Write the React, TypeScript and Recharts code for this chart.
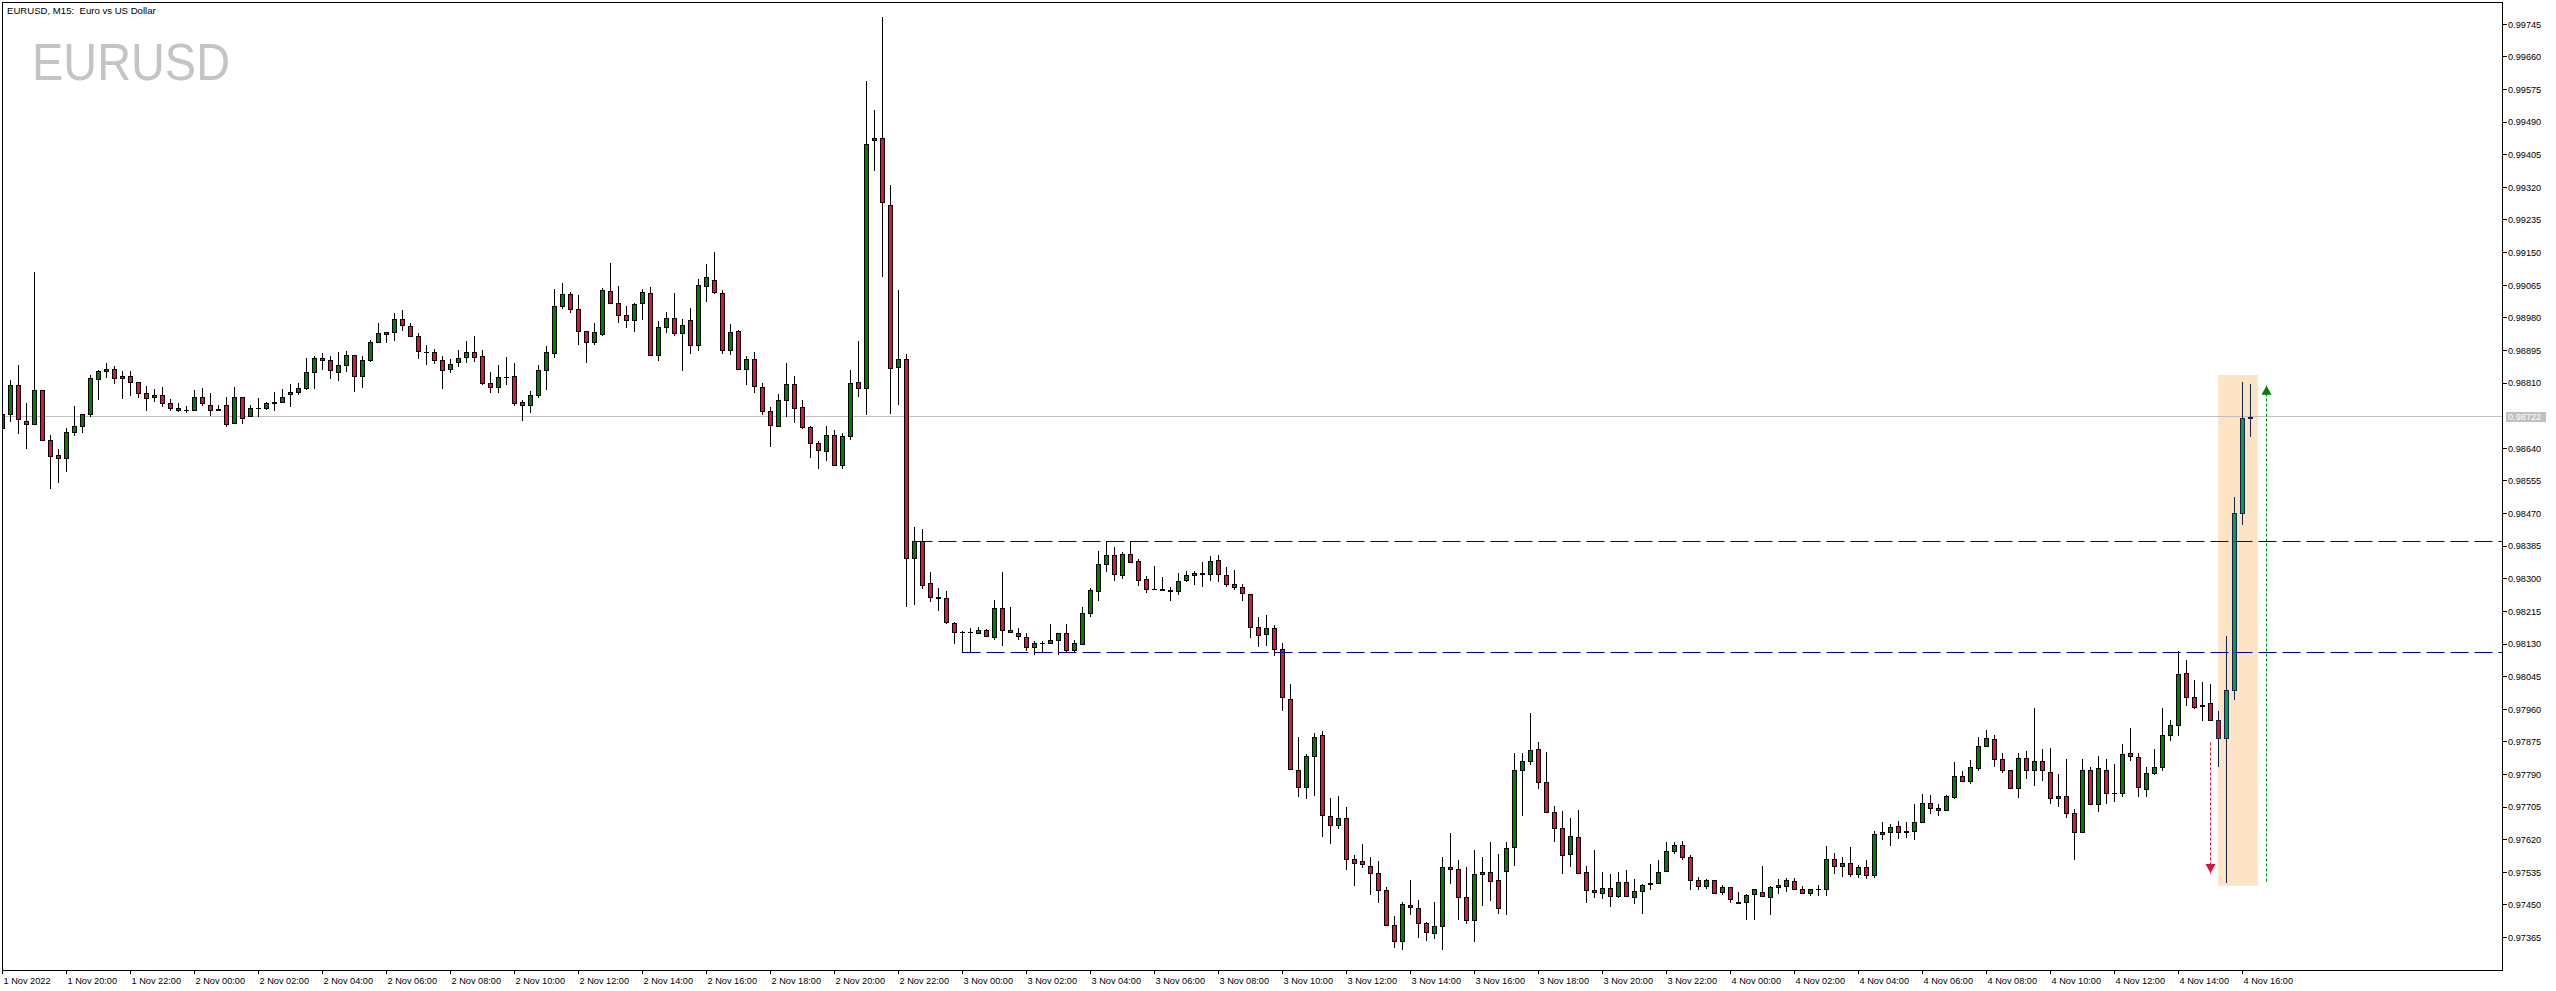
import {
  ComposedChart,
  Bar,
  XAxis,
  YAxis,
  ReferenceLine,
  ReferenceArea,
  ReferenceDot,
} from "recharts";

const FONT = "'Liberation Sans', Arial, sans-serif";

// EURUSD M15, one entry per candle, starting 1 Nov 2022 18:00
const opens = [
  0.98692, 0.98729, 0.98804, 0.98710, 0.98703, 0.98791, 0.98661, 0.98622, 0.98614, 0.98682,
  0.98697, 0.98729, 0.98820, 0.98841, 0.98846, 0.98822, 0.98828, 0.98812, 0.98783, 0.98773,
  0.98778, 0.98757, 0.98744, 0.98740, 0.98739, 0.98775, 0.98752, 0.98742, 0.98752, 0.98705,
  0.98773, 0.98723, 0.98744, 0.98744, 0.98757, 0.98762, 0.98781, 0.98786, 0.98796, 0.98838,
  0.98875, 0.98869, 0.98840, 0.98856, 0.98882, 0.98828, 0.98869, 0.98916, 0.98939, 0.98942,
  0.98976, 0.98958, 0.98934, 0.98892, 0.98890, 0.98869, 0.98846, 0.98864, 0.98877, 0.98890,
  0.98880, 0.98809, 0.98799, 0.98827, 0.98828, 0.98760, 0.98752, 0.98778, 0.98843, 0.98888,
  0.99010, 0.99041, 0.99002, 0.98945, 0.98916, 0.98939, 0.99049, 0.99020, 0.98987, 0.98974,
  0.99018, 0.99044, 0.98882, 0.98955, 0.98979, 0.98941, 0.98974, 0.98908, 0.99062, 0.99078,
  0.99044, 0.98895, 0.98945, 0.98846, 0.98872, 0.98799, 0.98736, 0.98697, 0.98765, 0.98807,
  0.98747, 0.98695, 0.98653, 0.98632, 0.98676, 0.98596, 0.98671, 0.98812, 0.98797, 0.99443,
  0.99449, 0.99275, 0.98851, 0.98874, 0.98355, 0.98398, 0.98288, 0.98252, 0.98249, 0.98185,
  0.98162, 0.98161, 0.98159, 0.98166, 0.98147, 0.98223, 0.98166, 0.98158, 0.98147, 0.98121,
  0.98132, 0.98132, 0.98140, 0.98158, 0.98114, 0.98129, 0.98210, 0.98267, 0.98338, 0.98361,
  0.98309, 0.98364, 0.98346, 0.98299, 0.98273, 0.98273, 0.98270, 0.98267, 0.98296, 0.98309,
  0.98313, 0.98312, 0.98348, 0.98309, 0.98286, 0.98278, 0.98260, 0.98174, 0.98155, 0.98171,
  0.98116, 0.97988, 0.97803, 0.97757, 0.97837, 0.97892, 0.97681, 0.97658, 0.97676, 0.97569,
  0.97564, 0.97551, 0.97532, 0.97488, 0.97397, 0.97355, 0.97449, 0.97441, 0.97402, 0.97376,
  0.97394, 0.97548, 0.97543, 0.97470, 0.97410, 0.97530, 0.97535, 0.97514, 0.97538, 0.97600,
  0.97803, 0.97824, 0.97856, 0.97770, 0.97691, 0.97650, 0.97582, 0.97627, 0.97535, 0.97488,
  0.97480, 0.97493, 0.97473, 0.97509, 0.97470, 0.97486, 0.97505, 0.97506, 0.97538, 0.97590,
  0.97605, 0.97574, 0.97514, 0.97499, 0.97514, 0.97483, 0.97496, 0.97459, 0.97457, 0.97478,
  0.97483, 0.97470, 0.97496, 0.97499, 0.97512, 0.97491, 0.97480, 0.97491, 0.97491, 0.97569,
  0.97551, 0.97559, 0.97530, 0.97550, 0.97528, 0.97634, 0.97639, 0.97655, 0.97641, 0.97642,
  0.97665, 0.97715, 0.97702, 0.97697, 0.97731, 0.97785, 0.97772, 0.97806, 0.97863, 0.97882,
  0.97830, 0.97801, 0.97754, 0.97832, 0.97801, 0.97824, 0.97796, 0.97728, 0.97733, 0.97689,
  0.97639, 0.97803, 0.97712, 0.97803, 0.97743, 0.97741, 0.97845, 0.97836, 0.97753, 0.97793,
  0.97809, 0.97892, 0.97918, 0.98054, 0.97993, 0.97970, 0.97976, 0.97932, 0.97884, 0.98010,
  0.98471, 0.98720,
];

const highs = [
  0.98729, 0.98818, 0.98857, 0.98757, 0.99100, 0.98791, 0.98675, 0.98638, 0.98692, 0.98750,
  0.98729, 0.98831, 0.98844, 0.98862, 0.98855, 0.98842, 0.98842, 0.98812, 0.98802, 0.98794,
  0.98799, 0.98769, 0.98757, 0.98749, 0.98792, 0.98796, 0.98783, 0.98752, 0.98775, 0.98799,
  0.98775, 0.98752, 0.98770, 0.98762, 0.98786, 0.98794, 0.98807, 0.98811, 0.98875, 0.98881,
  0.98888, 0.98881, 0.98891, 0.98894, 0.98882, 0.98880, 0.98921, 0.98967, 0.98944, 0.98993,
  0.99000, 0.98967, 0.98940, 0.98908, 0.98899, 0.98881, 0.98873, 0.98895, 0.98920, 0.98933,
  0.98895, 0.98839, 0.98857, 0.98878, 0.98862, 0.98765, 0.98789, 0.98857, 0.98907, 0.99055,
  0.99071, 0.99047, 0.99039, 0.98947, 0.98967, 0.99057, 0.99123, 0.99062, 0.99010, 0.99018,
  0.99054, 0.99060, 0.98971, 0.98994, 0.99044, 0.98976, 0.99005, 0.99080, 0.99120, 0.99152,
  0.99052, 0.98963, 0.98948, 0.98880, 0.98890, 0.98809, 0.98747, 0.98781, 0.98862, 0.98828,
  0.98765, 0.98697, 0.98658, 0.98697, 0.98687, 0.98679, 0.98843, 0.98920, 0.99598, 0.99522,
  0.99764, 0.99326, 0.99053, 0.98887, 0.98435, 0.98430, 0.98318, 0.98277, 0.98267, 0.98187,
  0.98165, 0.98172, 0.98174, 0.98169, 0.98245, 0.98317, 0.98227, 0.98171, 0.98160, 0.98137,
  0.98137, 0.98181, 0.98158, 0.98181, 0.98140, 0.98226, 0.98275, 0.98372, 0.98398, 0.98382,
  0.98369, 0.98398, 0.98351, 0.98306, 0.98333, 0.98304, 0.98278, 0.98314, 0.98319, 0.98319,
  0.98343, 0.98359, 0.98361, 0.98330, 0.98322, 0.98286, 0.98260, 0.98200, 0.98205, 0.98179,
  0.98132, 0.98025, 0.97889, 0.97843, 0.97898, 0.97903, 0.97728, 0.97734, 0.97704, 0.97579,
  0.97609, 0.97574, 0.97564, 0.97496, 0.97421, 0.97458, 0.97515, 0.97462, 0.97406, 0.97457,
  0.97574, 0.97638, 0.97566, 0.97548, 0.97592, 0.97574, 0.97613, 0.97582, 0.97613, 0.97845,
  0.97845, 0.97949, 0.97874, 0.97848, 0.97707, 0.97694, 0.97676, 0.97698, 0.97551, 0.97592,
  0.97535, 0.97530, 0.97535, 0.97540, 0.97517, 0.97504, 0.97556, 0.97566, 0.97613, 0.97613,
  0.97617, 0.97579, 0.97522, 0.97517, 0.97514, 0.97501, 0.97496, 0.97483, 0.97478, 0.97491,
  0.97551, 0.97499, 0.97517, 0.97519, 0.97519, 0.97499, 0.97491, 0.97501, 0.97604, 0.97585,
  0.97574, 0.97600, 0.97554, 0.97567, 0.97642, 0.97665, 0.97660, 0.97668, 0.97665, 0.97712,
  0.97738, 0.97736, 0.97712, 0.97736, 0.97822, 0.97798, 0.97827, 0.97887, 0.97905, 0.97892,
  0.97845, 0.97803, 0.97845, 0.97850, 0.97962, 0.97856, 0.97858, 0.97790, 0.97830, 0.97699,
  0.97830, 0.97809, 0.97837, 0.97830, 0.97817, 0.97869, 0.97910, 0.97845, 0.97810, 0.97856,
  0.97964, 0.97932, 0.98111, 0.98089, 0.98037, 0.98031, 0.98026, 0.97956, 0.98151, 0.98513,
  0.98813, 0.98807,
];

const lows = [
  0.98692, 0.98712, 0.98679, 0.98640, 0.98703, 0.98661, 0.98536, 0.98553, 0.98582, 0.98675,
  0.98683, 0.98725, 0.98769, 0.98827, 0.98809, 0.98772, 0.98780, 0.98775, 0.98741, 0.98764,
  0.98749, 0.98741, 0.98736, 0.98734, 0.98739, 0.98754, 0.98728, 0.98739, 0.98699, 0.98705,
  0.98707, 0.98723, 0.98725, 0.98742, 0.98741, 0.98762, 0.98749, 0.98781, 0.98794, 0.98796,
  0.98848, 0.98824, 0.98818, 0.98842, 0.98790, 0.98801, 0.98867, 0.98916, 0.98918, 0.98923,
  0.98949, 0.98932, 0.98876, 0.98861, 0.98863, 0.98798, 0.98838, 0.98855, 0.98866, 0.98868,
  0.98807, 0.98788, 0.98788, 0.98808, 0.98754, 0.98715, 0.98734, 0.98775, 0.98794, 0.98877,
  0.99005, 0.98994, 0.98913, 0.98866, 0.98911, 0.98936, 0.99020, 0.98968, 0.98957, 0.98947,
  0.98978, 0.98882, 0.98871, 0.98944, 0.98936, 0.98844, 0.98889, 0.98897, 0.99023, 0.99044,
  0.98889, 0.98885, 0.98846, 0.98807, 0.98786, 0.98729, 0.98647, 0.98697, 0.98725, 0.98708,
  0.98692, 0.98618, 0.98590, 0.98609, 0.98596, 0.98590, 0.98663, 0.98777, 0.98730, 0.99364,
  0.99088, 0.98733, 0.98755, 0.98228, 0.98233, 0.98276, 0.98242, 0.98218, 0.98185, 0.98132,
  0.98108, 0.98108, 0.98158, 0.98151, 0.98143, 0.98127, 0.98161, 0.98142, 0.98114, 0.98103,
  0.98108, 0.98132, 0.98103, 0.98108, 0.98108, 0.98129, 0.98202, 0.98246, 0.98319, 0.98298,
  0.98301, 0.98343, 0.98283, 0.98265, 0.98273, 0.98270, 0.98246, 0.98260, 0.98293, 0.98286,
  0.98280, 0.98296, 0.98293, 0.98280, 0.98273, 0.98246, 0.98147, 0.98124, 0.98127, 0.98101,
  0.97957, 0.97804, 0.97735, 0.97730, 0.97736, 0.97631, 0.97612, 0.97650, 0.97545, 0.97503,
  0.97548, 0.97479, 0.97459, 0.97397, 0.97340, 0.97334, 0.97426, 0.97366, 0.97358, 0.97363,
  0.97334, 0.97506, 0.97413, 0.97402, 0.97355, 0.97449, 0.97462, 0.97428, 0.97426, 0.97553,
  0.97684, 0.97817, 0.97754, 0.97691, 0.97616, 0.97532, 0.97551, 0.97532, 0.97457, 0.97470,
  0.97467, 0.97446, 0.97470, 0.97473, 0.97454, 0.97428, 0.97491, 0.97506, 0.97538, 0.97585,
  0.97569, 0.97491, 0.97491, 0.97493, 0.97480, 0.97478, 0.97457, 0.97454, 0.97413, 0.97413,
  0.97473, 0.97426, 0.97480, 0.97486, 0.97491, 0.97480, 0.97475, 0.97475, 0.97475, 0.97532,
  0.97525, 0.97525, 0.97524, 0.97519, 0.97524, 0.97621, 0.97605, 0.97624, 0.97626, 0.97621,
  0.97665, 0.97689, 0.97684, 0.97697, 0.97728, 0.97772, 0.97767, 0.97801, 0.97863, 0.97811,
  0.97796, 0.97754, 0.97731, 0.97780, 0.97762, 0.97775, 0.97717, 0.97707, 0.97678, 0.97571,
  0.97639, 0.97712, 0.97694, 0.97717, 0.97720, 0.97733, 0.97827, 0.97735, 0.97735, 0.97791,
  0.97802, 0.97881, 0.97894, 0.97972, 0.97964, 0.97931, 0.97932, 0.97813, 0.97511, 0.97988,
  0.98444, 0.98673,
];

const closes = [
  0.98729, 0.98804, 0.98716, 0.98704, 0.98791, 0.98661, 0.98619, 0.98614, 0.98682, 0.98697,
  0.98729, 0.98822, 0.98841, 0.98846, 0.98822, 0.98828, 0.98812, 0.98783, 0.98772, 0.98778,
  0.98757, 0.98744, 0.98739, 0.98740, 0.98775, 0.98757, 0.98739, 0.98740, 0.98703, 0.98773,
  0.98718, 0.98744, 0.98744, 0.98757, 0.98762, 0.98775, 0.98786, 0.98796, 0.98838, 0.98875,
  0.98869, 0.98843, 0.98856, 0.98882, 0.98828, 0.98869, 0.98916, 0.98940, 0.98942, 0.98976,
  0.98961, 0.98932, 0.98893, 0.98891, 0.98869, 0.98843, 0.98861, 0.98875, 0.98890, 0.98877,
  0.98809, 0.98799, 0.98825, 0.98826, 0.98757, 0.98752, 0.98778, 0.98843, 0.98890, 0.99010,
  0.99041, 0.99002, 0.98945, 0.98916, 0.98942, 0.99052, 0.99020, 0.98987, 0.98974, 0.99015,
  0.99047, 0.98882, 0.98955, 0.98979, 0.98941, 0.98961, 0.98908, 0.99065, 0.99086, 0.99047,
  0.98895, 0.98942, 0.98846, 0.98872, 0.98802, 0.98736, 0.98700, 0.98765, 0.98807, 0.98744,
  0.98695, 0.98653, 0.98635, 0.98676, 0.98596, 0.98671, 0.98809, 0.98797, 0.99434, 0.99449,
  0.99281, 0.98849, 0.98874, 0.98355, 0.98398, 0.98285, 0.98252, 0.98251, 0.98187, 0.98161,
  0.98162, 0.98161, 0.98166, 0.98152, 0.98223, 0.98166, 0.98161, 0.98150, 0.98121, 0.98132,
  0.98132, 0.98140, 0.98158, 0.98114, 0.98132, 0.98210, 0.98270, 0.98338, 0.98361, 0.98312,
  0.98364, 0.98343, 0.98296, 0.98273, 0.98273, 0.98270, 0.98267, 0.98293, 0.98309, 0.98314,
  0.98314, 0.98346, 0.98312, 0.98286, 0.98278, 0.98262, 0.98174, 0.98153, 0.98171, 0.98116,
  0.97991, 0.97804, 0.97757, 0.97837, 0.97889, 0.97684, 0.97658, 0.97676, 0.97569, 0.97559,
  0.97556, 0.97532, 0.97488, 0.97397, 0.97355, 0.97452, 0.97444, 0.97402, 0.97379, 0.97394,
  0.97548, 0.97543, 0.97470, 0.97410, 0.97530, 0.97535, 0.97512, 0.97441, 0.97598, 0.97803,
  0.97824, 0.97853, 0.97770, 0.97691, 0.97650, 0.97579, 0.97629, 0.97532, 0.97488, 0.97483,
  0.97493, 0.97473, 0.97509, 0.97473, 0.97486, 0.97501, 0.97506, 0.97535, 0.97590, 0.97605,
  0.97574, 0.97514, 0.97499, 0.97514, 0.97480, 0.97496, 0.97465, 0.97454, 0.97475, 0.97491,
  0.97473, 0.97496, 0.97501, 0.97514, 0.97491, 0.97480, 0.97491, 0.97491, 0.97569, 0.97551,
  0.97559, 0.97530, 0.97550, 0.97528, 0.97634, 0.97639, 0.97652, 0.97639, 0.97642, 0.97665,
  0.97715, 0.97702, 0.97697, 0.97733, 0.97785, 0.97772, 0.97809, 0.97863, 0.97884, 0.97830,
  0.97801, 0.97754, 0.97832, 0.97801, 0.97824, 0.97803, 0.97728, 0.97733, 0.97689, 0.97639,
  0.97803, 0.97712, 0.97806, 0.97741, 0.97743, 0.97843, 0.97837, 0.97757, 0.97793, 0.97809,
  0.97892, 0.97918, 0.98051, 0.97993, 0.97967, 0.97968, 0.97932, 0.97884, 0.98010, 0.98471,
  0.98719, 0.98722,
];

// time axis: candle index of each label, and its text
const timeTicks = [
  0, 8, 16, 24, 32, 40, 48, 56, 64, 72, 80, 88, 96, 104, 112, 120, 128, 136,
  144, 152, 160, 168, 176, 184, 192, 200, 208, 216, 224, 232, 240, 248, 256, 264, 272, 280,
];
const timeLabels = [
  "1 Nov 2022", "1 Nov 20:00", "1 Nov 22:00", "2 Nov 00:00", "2 Nov 02:00", "2 Nov 04:00",
  "2 Nov 06:00", "2 Nov 08:00", "2 Nov 10:00", "2 Nov 12:00", "2 Nov 14:00", "2 Nov 16:00",
  "2 Nov 18:00", "2 Nov 20:00", "2 Nov 22:00", "3 Nov 00:00", "3 Nov 02:00", "3 Nov 04:00",
  "3 Nov 06:00", "3 Nov 08:00", "3 Nov 10:00", "3 Nov 12:00", "3 Nov 14:00", "3 Nov 16:00",
  "3 Nov 18:00", "3 Nov 20:00", "3 Nov 22:00", "4 Nov 00:00", "4 Nov 02:00", "4 Nov 04:00",
  "4 Nov 06:00", "4 Nov 08:00", "4 Nov 10:00", "4 Nov 12:00", "4 Nov 14:00", "4 Nov 16:00",
];

const priceTicks = [
  0.99745, 0.9966, 0.99575, 0.9949, 0.99405, 0.9932, 0.99235, 0.9915, 0.99065, 0.9898,
  0.98895, 0.9881, 0.9864, 0.98555, 0.9847, 0.98385, 0.983, 0.98215, 0.9813, 0.98045,
  0.9796, 0.97875, 0.9779, 0.97705, 0.9762, 0.97535, 0.9745, 0.97365,
];

const lastPrice = 0.98722;
const upperLevel = { from: 114, price: 0.98398 };
const lowerLevel = { from: 120, price: 0.98108 };
const highlightFrom = 277;
const zone = { x1: 276.94, x2: 281.94, y1: 0.975, y2: 0.98831 };
const dropArrow = { x: 276, from: 0.97874, to: 0.97533 };
const riseArrow = { x: 283, from: 0.97511, to: 0.98803 };

const X_DOMAIN: [number, number] = [0.0625, 312.4375];
const Y_DOMAIN: [number, number] = [0.972805, 0.998005];

const candles = opens.map((open, i) => ({
  i,
  open,
  high: highs[i],
  low: lows[i],
  close: closes[i],
  range: [lows[i], highs[i]],
}));

const crisp = (v: number) => Math.round(v - 0.5) + 0.5;

const Candle = (props: any) => {
  const { x, y, width, height, payload } = props;
  if (!payload || x == null || y == null) return null;
  const { i, open, close, high, low } = payload;
  const marked = i >= highlightFrom;
  const span = high - low;
  const top = Math.min(y, y + height);
  const h = Math.abs(height);
  const py = (v: number) => (span > 0 ? top + ((high - v) / span) * h : top);
  const cx = crisp(x + width / 2);
  const edge = marked ? "#14234b" : "#000000";
  const up = close >= open;
  const fill = up ? (marked ? "#0b9a4f" : "#008000") : marked ? "#e3141f" : "#dc143c";
  const yHi = Math.round(py(high));
  const yLo = Math.round(py(low));
  const b1 = Math.round(py(Math.max(open, close)));
  const b2 = Math.round(py(Math.min(open, close)));
  return (
    <g>
      <line x1={cx} x2={cx} y1={yHi} y2={yLo + 1} stroke={edge} strokeWidth={1} />
      {b2 - b1 < 1 ? (
        <line x1={cx - 2.5} x2={cx + 2.5} y1={b1 + 0.5} y2={b1 + 0.5} stroke={edge} strokeWidth={1} />
      ) : (
        <rect x={cx - 2} y={b1 + 0.5} width={4} height={b2 - b1} fill={fill} stroke={edge} strokeWidth={1} />
      )}
    </g>
  );
};

const TimeTick = (props: any) => {
  const { x, y, payload } = props;
  const k = timeTicks.indexOf(payload.value);
  const tx = crisp(x);
  return (
    <g>
      <line x1={tx} x2={tx} y1={y} y2={y + 4} stroke="#000" strokeWidth={1} />
      <text x={tx + 1} y={y + 13.5} fontSize={9.2} fontFamily={FONT} fill="#000" textAnchor="start">
        {timeLabels[k]}
      </text>
    </g>
  );
};

const PriceTick = (props: any) => {
  const { x, y, payload } = props;
  const ty = crisp(y);
  return (
    <g>
      <line x1={x} x2={x + 5} y1={ty} y2={ty} stroke="#000" strokeWidth={1} />
      <text x={x + 6} y={y + 3.3} fontSize={9.2} fontFamily={FONT} fill="#000" textAnchor="start">
        {Number(payload.value).toFixed(5)}
      </text>
    </g>
  );
};

const PriceTag = (props: any) => {
  const vb = props.viewBox;
  if (!vb) return null;
  const right = vb.x + vb.width;
  const yy = Math.round(vb.y);
  return (
    <g>
      <rect x={right + 4} y={yy - 5} width={40} height={10} fill="#c0c0c0" />
      <text x={right + 6} y={yy + 3.3} fontSize={9.2} fontFamily={FONT} fill="#ffffff">
        {lastPrice.toFixed(5)}
      </text>
    </g>
  );
};

const CrispLine = (p: any) => (
  <line
    x1={crisp(p.x1)}
    y1={crisp(p.y1)}
    x2={crisp(p.x2)}
    y2={crisp(p.y2)}
    stroke={p.stroke}
    strokeWidth={p.strokeWidth ?? 1}
    strokeDasharray={p.strokeDasharray}
    fill="none"
  />
);

const HeadDown = (p: any) => {
  const cx = crisp(p.cx);
  return <path d={`M${cx - 5},${p.cy - 9} L${cx + 5},${p.cy - 9} L${cx},${p.cy} Z`} fill="#dc143c" />;
};

const HeadUp = (p: any) => {
  const cx = crisp(p.cx);
  return <path d={`M${cx - 5},${p.cy + 9} L${cx + 5},${p.cy + 9} L${cx},${p.cy} Z`} fill="#008000" />;
};

export default function App() {
  return (
    <div style={{ position: "relative", width: 2556, height: 991, background: "#fff", overflow: "hidden" }}>
      <style>{`body{margin:0;}`}</style>
      <svg width={2556} height={991} style={{ position: "absolute", left: 0, top: 0 }}>
        <text
          x={32}
          y={80}
          fontSize={52}
          fontFamily={FONT}
          fill="#c4c4c4"
          textLength={198}
          lengthAdjust="spacingAndGlyphs"
        >
          EURUSD
        </text>
      </svg>
      <div style={{ position: "absolute", left: 0, top: 0 }}>
        <ComposedChart
          width={2556}
          height={991}
          data={candles}
          margin={{ top: 3, right: 0, bottom: 0, left: 3 }}
        >
          <XAxis
            dataKey="i"
            type="number"
            domain={X_DOMAIN}
            allowDataOverflow
            ticks={timeTicks}
            interval={0}
            tick={<TimeTick />}
            tickLine={false}
            axisLine={false}
            tickSize={0}
            tickMargin={0}
            height={21}
          />
          <YAxis
            orientation="right"
            type="number"
            domain={Y_DOMAIN}
            allowDataOverflow
            ticks={priceTicks}
            interval={0}
            tick={<PriceTick />}
            tickLine={false}
            axisLine={false}
            tickSize={0}
            tickMargin={0}
            width={54}
          />
          <ReferenceArea
            x1={zone.x1}
            x2={zone.x2}
            y1={zone.y1}
            y2={zone.y2}
            fill="#fde4c5"
            fillOpacity={1}
            stroke="none"
            zIndex={100}
          />
          <ReferenceLine
            y={lastPrice}
            stroke="#c0c0c0"
            shape={CrispLine}
            label={<PriceTag />}
            zIndex={250}
          />
          <Bar dataKey="range" barSize={5} shape={Candle} isAnimationActive={false} />
          <ReferenceLine
            segment={[
              { x: upperLevel.from, y: upperLevel.price },
              { x: X_DOMAIN[1], y: upperLevel.price },
            ]}
            stroke="#0000a0"
            strokeDasharray="18 6"
            shape={CrispLine}
          />
          <ReferenceLine
            segment={[
              { x: lowerLevel.from, y: lowerLevel.price },
              { x: X_DOMAIN[1], y: lowerLevel.price },
            ]}
            stroke="#0000a0"
            strokeDasharray="18 6"
            shape={CrispLine}
          />
          <ReferenceLine
            segment={[
              { x: dropArrow.x, y: dropArrow.from },
              { x: dropArrow.x, y: dropArrow.to },
            ]}
            stroke="#dc143c"
            strokeDasharray="3 2"
            shape={CrispLine}
          />
          <ReferenceLine
            segment={[
              { x: riseArrow.x, y: riseArrow.from },
              { x: riseArrow.x, y: riseArrow.to },
            ]}
            stroke="#008000"
            strokeDasharray="3 2"
            shape={CrispLine}
          />
          <ReferenceDot x={dropArrow.x} y={dropArrow.to} r={5} shape={HeadDown} />
          <ReferenceDot x={riseArrow.x} y={riseArrow.to} r={5} shape={HeadUp} />
        </ComposedChart>
      </div>
      <svg
        width={2556}
        height={991}
        style={{ position: "absolute", left: 0, top: 0, pointerEvents: "none" }}
      >
        <rect x={2.5} y={2.5} width={2500} height={968} fill="none" stroke="#000" strokeWidth={1} />
        <text x={7} y={14} fontSize={9.6} fontFamily={FONT} fill="#000" style={{ whiteSpace: "pre" }}>
          EURUSD, M15:  Euro vs US Dollar
        </text>
      </svg>
    </div>
  );
}
